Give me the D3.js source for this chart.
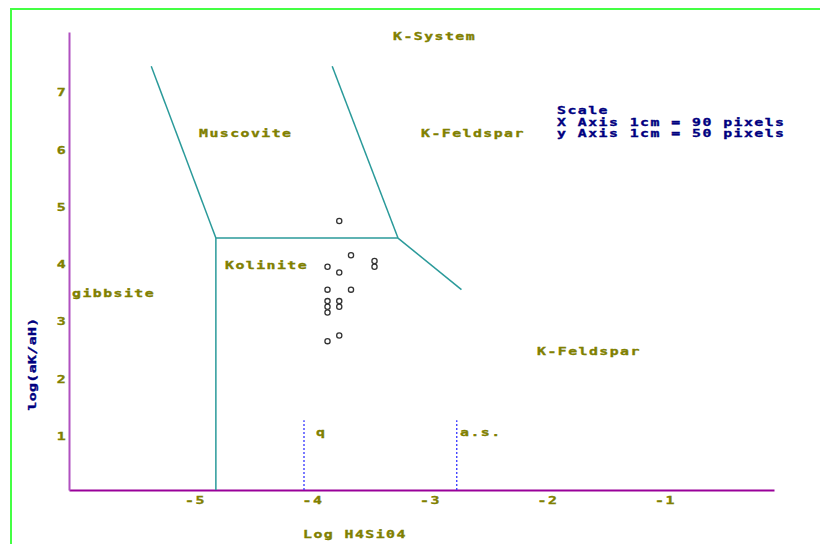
<!DOCTYPE html>
<html><head><meta charset="utf-8">
<script src="https://cdn.jsdelivr.net/npm/d3@7"></script>
<style>
html,body{margin:0;padding:0;background:#fff;}
svg{display:block;}
</style></head>
<body>
<svg id="chart" width="820" height="544"></svg>
<script>
// ---- data ----
const xTicks = [-5, -4, -3, -2, -1];
const yTicks = [1, 2, 3, 4, 5, 6, 7];
const sampleX = [-3.7, -3.6, -3.4, -3.4, -3.8, -3.7, -3.8, -3.6, -3.8, -3.8, -3.8, -3.7, -3.7, -3.8, -3.7];
const sampleY = [4.7, 4.1, 4.0, 3.9, 3.9, 3.8, 3.5, 3.5, 3.3, 3.2, 3.1, 3.3, 3.2, 2.6, 2.7];
const boundaryGibbsiteMuscovite = [[-5.30, 7.4], [-4.75, 4.4]];
const boundaryMuscoviteKfeldspar = [[-3.76, 7.4], [-3.20, 4.4]];
const boundaryMuscoviteKaolinite = [[-4.75, 4.4], [-3.20, 4.4]];
const boundaryKaoliniteKfeldspar = [[-3.20, 4.4], [-2.66, 3.5]];
const boundaryGibbsiteKaolinite = [[-4.75, 4.4], [-4.75, 0]];
const quartzLine = [[-4.0, 0], [-4.0, 1.22]];
const amorphSilicaLine = [[-2.7, 0], [-2.7, 1.22]];
const scaleLines = ["Scale", "X Axis 1cm = 90 pixels", "y Axis 1cm = 50 pixels"];

// ---- drawing ----
const svg = d3.select("#chart");
const x = d3.scaleLinear().domain([-6, 0]).range([69, 774]);
const y = d3.scaleLinear().domain([0, 8]).range([490, 32]);

const OLIVE = "#808000", NAVY = "#000080", TEAL = "#2a9a9a";

// green frame (open to the right and bottom)
svg.append("path").attr("d", "M11,600 L11,9 L900,9")
  .attr("fill", "none").attr("stroke", "#44ff44").attr("stroke-width", 2);

function styleText(t, color) {
  return t.attr("font-family", "DejaVu Sans Mono, monospace")
    .attr("font-weight", "bold").attr("font-size", 11)
    .attr("fill", color).attr("stroke", color).attr("stroke-width", 0.35);
}
function label(txt, px, py, color, anchor) {
  const g = svg.append("g").attr("transform", `translate(${px},${py}) scale(1.35,1)`);
  styleText(g.append("text").text(txt), color)
    .attr("letter-spacing", 1.08)
    .attr("text-anchor", anchor || "start");
  return g;
}

// axes
const xAxis = d3.axisBottom(x).tickValues(xTicks).tickSize(0).tickFormat("");
const yAxis = d3.axisLeft(y).tickValues(yTicks).tickSize(0).tickFormat("");
const gx = svg.append("g").attr("transform", `translate(0,${y(0)})`).call(xAxis);
gx.select(".domain").attr("stroke", "#990099").attr("stroke-width", 2);
const gy = svg.append("g").attr("transform", `translate(${x(-6)},0)`).call(yAxis);
gy.select(".domain").attr("stroke", "#b050c0").attr("stroke-width", 2);

xTicks.forEach(t => label(String(t), x(t) + 9, y(0) + 14, OLIVE, "middle"));
yTicks.forEach(t => label(String(t), x(-6) - 7, y(t) + 7, OLIVE, "middle"));

// boundaries
const line = d3.line().x(d => x(d[0])).y(d => y(d[1]));
[boundaryGibbsiteMuscovite, boundaryMuscoviteKfeldspar, boundaryMuscoviteKaolinite,
 boundaryKaoliniteKfeldspar, boundaryGibbsiteKaolinite].forEach(seg => {
  svg.append("path").attr("d", line(seg)).attr("fill", "none")
    .attr("stroke", TEAL).attr("stroke-width", 1.5);
});
[quartzLine, amorphSilicaLine].forEach(seg => {
  svg.append("path").attr("d", line(seg)).attr("fill", "none")
    .attr("stroke", "#3333ff").attr("stroke-width", 1.3).attr("stroke-dasharray", "2,2");
});

// samples
sampleX.forEach((v, i) => {
  svg.append("circle").attr("cx", x(v)).attr("cy", y(sampleY[i])).attr("r", 2.6)
    .attr("fill", "none").attr("stroke", "#333").attr("stroke-width", 1.3);
});

// region labels
label("K-System", 393, 40, OLIVE);
label("Muscovite", 199, 137, OLIVE);
label("K-Feldspar", 421, 137, OLIVE);
label("Kolinite", 225, 269, OLIVE);
label("gibbsite", 72, 297, OLIVE);
label("K-Feldspar", 537, 355, OLIVE);
label("q", 316, 436, OLIVE);
label("a.s.", 460, 436, OLIVE);

// scale note
scaleLines.forEach((s, i) => label(s, 557, 114 + i * 11.5, NAVY));

// axis titles
label("Log H4Si04", 303, 538, OLIVE);
const yt = svg.append("g").attr("transform", "translate(36,364) rotate(-90) scale(1.35,1)")
  .append("text").text("log(aK/aH)")
  .attr("letter-spacing", 0.3).attr("text-anchor", "middle");
styleText(yt, NAVY);
</script>
</body></html>
